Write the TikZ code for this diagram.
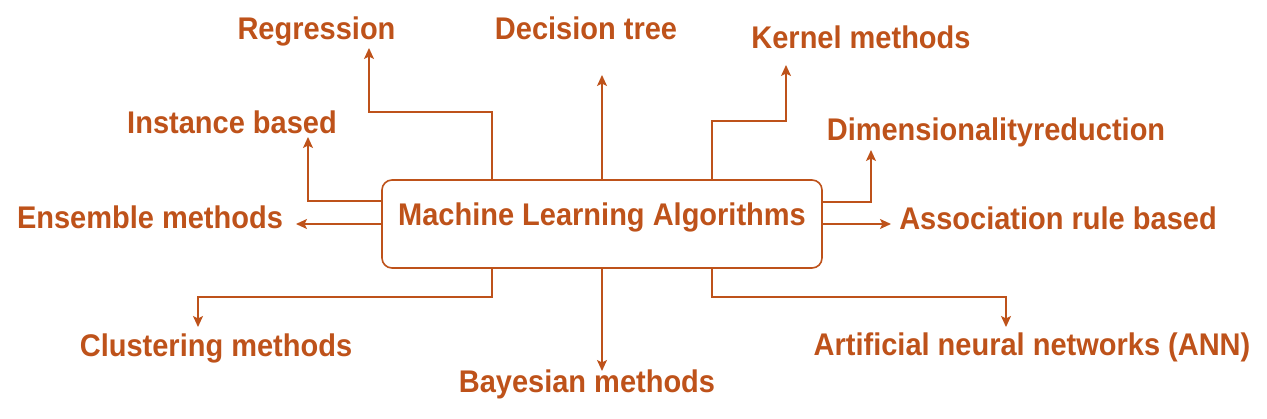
\documentclass[tikz,border=0pt]{standalone}
\usepackage{fontspec}
\setmainfont{Liberation Sans}
\usetikzlibrary{arrows.meta}
\definecolor{mlc}{RGB}{190,82,26}
\newcommand\talltext[1]{\scalebox{1}[1.08]{#1}}
\begin{document}
\begin{tikzpicture}[x=1pt,y=-1pt,
  lbl/.style={anchor=base,inner sep=0pt,text=mlc,font=\bfseries\fontsize{29}{34}\selectfont},
  mainbox/.style={draw=mlc,line width=1.6pt,rounded corners=10pt,minimum width=440pt,minimum height=88pt,inner sep=0pt},
  arr/.style={draw=mlc,line width=1.6pt,-{Stealth[length=11pt,width=10pt,inset=2.5pt]}}]
\useasboundingbox (0,0) rectangle (1267,418);
\node[mainbox] (ml) at (602,224) {};
\node[lbl] (title) at (602,225) {\talltext{Machine Learning Algorithms}};
\node[lbl] (reg) at (316.5,39) {\talltext{Regression}};
\node[lbl] (dt) at (586,39) {\talltext{Decision tree}};
\node[lbl] (ker) at (861,48) {\talltext{Kernel methods}};
\node[lbl] (inst) at (232,133) {\talltext{Instance based}};
\node[lbl] (dim) at (996,140) {\talltext{Dimensionalityreduction}};
\node[lbl] (ens) at (150,228) {\talltext{Ensemble methods}};
\node[lbl] (assoc) at (1058,229) {\talltext{Association rule based}};
\node[lbl] (clu) at (216,356) {\talltext{Clustering methods}};
\node[lbl] (bay) at (587,392) {\talltext{Bayesian methods}};
\node[lbl] (ann) at (1032,355) {\talltext{Artificial neural networks (ANN)}};
\coordinate (regbend) at (369,112);
\coordinate (regtip) at (369,48);
\coordinate (dttip) at (602,75);
\coordinate (kerbend) at (786,121);
\coordinate (kertip) at (786,65);
\coordinate (insttip) at (308,137);
\coordinate (enstip) at (296,224);
\coordinate (dimtip) at (871,150);
\coordinate (asstip) at (891,224);
\coordinate (clubend) at (198,297);
\coordinate (clutip) at (198,327);
\coordinate (baytip) at (602,371);
\coordinate (annbend) at (1006,297);
\coordinate (anntip) at (1006,327);
\draw[arr] ([xshift=-110pt]ml.north) |- (regbend) -- (regtip);
\draw[arr] (ml.north) -- (dttip);
\draw[arr] ([xshift=110pt]ml.north) |- (kerbend) -- (kertip);
\draw[arr] ([yshift=23pt]ml.west) -| (insttip);
\draw[arr] (ml.west) -- (enstip);
\draw[arr] ([yshift=22pt]ml.east) -| (dimtip);
\draw[arr] (ml.east) -- (asstip);
\draw[arr] ([xshift=-110pt]ml.south) |- (clubend) -- (clutip);
\draw[arr] (ml.south) -- (baytip);
\draw[arr] ([xshift=110pt]ml.south) |- (annbend) -- (anntip);
\end{tikzpicture}
\end{document}
